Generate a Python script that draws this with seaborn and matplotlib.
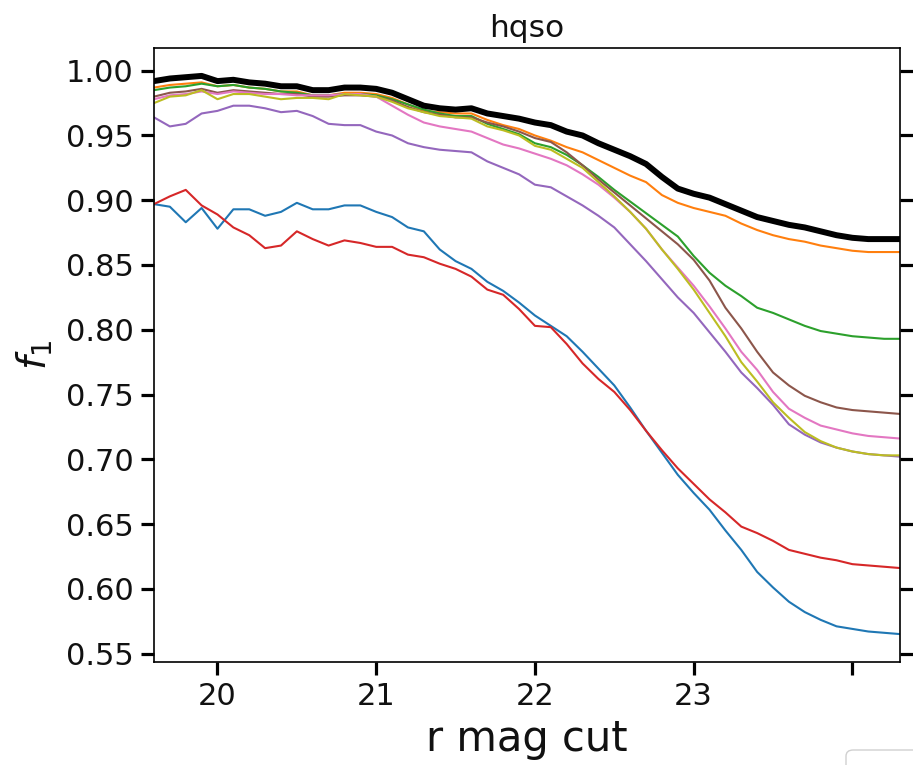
import numpy as np
import pandas as pd
import matplotlib
matplotlib.use("Agg")
import matplotlib.pyplot as plt
from matplotlib.patches import FancyBboxPatch
from matplotlib.ticker import MultipleLocator, FormatStrFormatter
import seaborn as sns

# ---- data ----
r_cut = [round(19.6 + 0.1 * i, 1) for i in range(48)]

s_blue = [0.897, 0.895, 0.883, 0.894, 0.878, 0.893, 0.893, 0.888, 0.891, 0.898,
          0.893, 0.893, 0.896, 0.896, 0.891, 0.887, 0.879, 0.876, 0.862, 0.853,
          0.847, 0.837, 0.830, 0.821, 0.811, 0.803, 0.795, 0.783, 0.770, 0.757,
          0.740, 0.722, 0.705, 0.688, 0.674, 0.661, 0.645, 0.630, 0.613, 0.601,
          0.590, 0.582, 0.576, 0.571, 0.569, 0.567, 0.566, 0.565]
s_orange = [0.987, 0.989, 0.990, 0.991, 0.988, 0.989, 0.987, 0.986, 0.984, 0.984,
            0.981, 0.981, 0.983, 0.983, 0.982, 0.979, 0.974, 0.969, 0.968, 0.967,
            0.967, 0.962, 0.958, 0.955, 0.950, 0.946, 0.941, 0.937, 0.931, 0.925,
            0.919, 0.914, 0.904, 0.898, 0.894, 0.891, 0.888, 0.882, 0.877, 0.873,
            0.870, 0.868, 0.865, 0.863, 0.861, 0.860, 0.860, 0.860]
s_green = [0.985, 0.987, 0.988, 0.990, 0.988, 0.989, 0.987, 0.986, 0.984, 0.983,
           0.981, 0.981, 0.982, 0.982, 0.981, 0.978, 0.974, 0.970, 0.967, 0.965,
           0.965, 0.959, 0.955, 0.951, 0.944, 0.941, 0.935, 0.927, 0.918, 0.908,
           0.899, 0.890, 0.881, 0.872, 0.857, 0.844, 0.834, 0.826, 0.817, 0.813,
           0.808, 0.803, 0.799, 0.797, 0.795, 0.794, 0.793, 0.793]
s_red = [0.897, 0.903, 0.908, 0.896, 0.889, 0.879, 0.873, 0.863, 0.865, 0.876,
         0.870, 0.865, 0.869, 0.867, 0.864, 0.864, 0.858, 0.856, 0.851, 0.847,
         0.841, 0.831, 0.827, 0.816, 0.803, 0.802, 0.789, 0.774, 0.762, 0.752,
         0.738, 0.722, 0.707, 0.693, 0.681, 0.669, 0.659, 0.648, 0.643, 0.637,
         0.630, 0.627, 0.624, 0.622, 0.619, 0.618, 0.617, 0.616]
s_purple = [0.964, 0.957, 0.959, 0.967, 0.969, 0.973, 0.973, 0.971, 0.968, 0.969,
            0.965, 0.959, 0.958, 0.958, 0.953, 0.950, 0.944, 0.941, 0.939, 0.938,
            0.937, 0.930, 0.925, 0.920, 0.912, 0.910, 0.903, 0.896, 0.888, 0.879,
            0.866, 0.853, 0.839, 0.825, 0.813, 0.798, 0.783, 0.767, 0.755, 0.742,
            0.727, 0.719, 0.713, 0.709, 0.706, 0.704, 0.703, 0.702]
s_brown = [0.980, 0.983, 0.984, 0.986, 0.983, 0.985, 0.984, 0.983, 0.982, 0.982,
           0.980, 0.980, 0.981, 0.981, 0.980, 0.977, 0.972, 0.968, 0.966, 0.964,
           0.964, 0.960, 0.957, 0.953, 0.948, 0.945, 0.937, 0.927, 0.916, 0.906,
           0.896, 0.886, 0.876, 0.866, 0.854, 0.838, 0.817, 0.801, 0.783, 0.767,
           0.757, 0.749, 0.744, 0.740, 0.738, 0.737, 0.736, 0.735]
s_pink = [0.978, 0.981, 0.982, 0.984, 0.982, 0.984, 0.983, 0.982, 0.982, 0.981,
          0.981, 0.981, 0.982, 0.982, 0.980, 0.973, 0.966, 0.960, 0.957, 0.955,
          0.953, 0.948, 0.943, 0.940, 0.936, 0.932, 0.927, 0.920, 0.912, 0.902,
          0.891, 0.878, 0.862, 0.848, 0.834, 0.818, 0.801, 0.783, 0.769, 0.752,
          0.739, 0.732, 0.726, 0.723, 0.720, 0.718, 0.717, 0.716]
s_olive = [0.975, 0.980, 0.981, 0.985, 0.978, 0.982, 0.982, 0.980, 0.978, 0.979,
           0.979, 0.978, 0.982, 0.981, 0.980, 0.976, 0.971, 0.968, 0.965, 0.964,
           0.963, 0.957, 0.954, 0.950, 0.942, 0.939, 0.932, 0.925, 0.914, 0.903,
           0.891, 0.878, 0.862, 0.847, 0.831, 0.813, 0.795, 0.775, 0.760, 0.744,
           0.732, 0.721, 0.714, 0.709, 0.706, 0.704, 0.703, 0.703]
s_total = [0.992, 0.994, 0.995, 0.996, 0.992, 0.993, 0.991, 0.990, 0.988, 0.988,
           0.985, 0.985, 0.987, 0.987, 0.986, 0.983, 0.978, 0.973, 0.971, 0.970,
           0.971, 0.967, 0.965, 0.963, 0.960, 0.958, 0.953, 0.950, 0.944, 0.939,
           0.934, 0.928, 0.918, 0.909, 0.905, 0.902, 0.897, 0.892, 0.887, 0.884,
           0.881, 0.879, 0.876, 0.873, 0.871, 0.870, 0.870, 0.870]

series_names = ["s0", "s1", "s2", "s3", "s4", "s5", "s6", "s8"]
series_vals = [s_blue, s_orange, s_green, s_red, s_purple, s_brown, s_pink, s_olive]
series_colors = ["#1f77b4", "#ff7f0e", "#2ca02c", "#d62728", "#9467bd",
                 "#8c564b", "#e377c2", "#bcbd22"]

xtick_vals = [20, 21, 22, 23, 24]
xtick_labels = ["20", "21", "22", "23", ""]

# ---- figure ----
sns.set_style("ticks")
plt.rcParams["font.family"] = ["DejaVu Sans"]

df = pd.DataFrame({
    "r": np.tile(r_cut, len(series_names)),
    "f1": np.concatenate(series_vals),
    "series": np.repeat(series_names, len(r_cut)),
})

fig = plt.figure(figsize=(9.13, 7.65), dpi=100)
ax = fig.add_axes([154 / 913, 1 - 662 / 765, (900 - 154) / 913, (662 - 48) / 765])

sns.lineplot(data=df, x="r", y="f1", hue="series", hue_order=series_names,
             palette=dict(zip(series_names, series_colors)), linewidth=1.5,
             legend=False, ax=ax, estimator=None, sort=False)
sns.lineplot(x=r_cut, y=s_total, color="black", linewidth=4.3, ax=ax,
             estimator=None, legend=False)

ax.set_xlim(min(r_cut), max(r_cut))
ax.margins(y=0.05)
ax.set_xticks(xtick_vals)
ax.set_xticklabels(xtick_labels)
ax.yaxis.set_major_locator(MultipleLocator(0.05))
ax.yaxis.set_major_formatter(FormatStrFormatter("%.2f"))

fs = 22
ax.tick_params(axis="both", which="major", direction="out", length=9.5,
               width=2.3, labelsize=fs, color="black", labelcolor="#111111",
               pad=5)
ax.tick_params(axis="y", left=True, right=True)
ax.tick_params(axis="x", bottom=True, top=False)
for sp in ax.spines.values():
    sp.set_linewidth(1.2)
    sp.set_color("black")
    sp.set_visible(True)

ax.set_title("hqso", fontsize=22.5, pad=8, color="#111111")
ax.set_xlabel("r mag cut", fontsize=30, labelpad=5, color="#111111")
ax.set_ylabel("$f_1$", fontsize=28, labelpad=8, color="#111111")

# partially visible legend frame at lower right corner
fig.patches.append(FancyBboxPatch((846 / 913, -40 / 765), 120 / 913, 55 / 765,
                                  boxstyle="round,pad=0,rounding_size=0.008",
                                  transform=fig.transFigure, facecolor="white",
                                  edgecolor="#d0d0d0", linewidth=1.0,
                                  clip_on=False, figure=fig))

fig.savefig("out.png", dpi=100)
